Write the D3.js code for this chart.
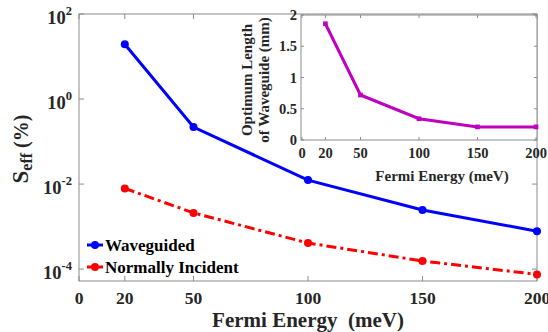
<!DOCTYPE html>
<html><head><meta charset="utf-8">
<script src="https://cdn.jsdelivr.net/npm/d3@7"></script>
<style>body{margin:0;background:#fff;}</style>
</head><body>
<script>
const energies = [20, 50, 100, 150, 200];
const waveguided = [19.4, 0.22, 0.0124, 0.00245, 0.00078];
const normallyIncident = [0.0079, 0.0021, 0.00041, 0.000155, 0.000075];
const optimumLength = [1.86, 0.72, 0.34, 0.21, 0.21];
const mainXTicks = [0, 20, 50, 100, 150, 200];
const mainYExponents = [2, 0, -2, -4];
const insetXTicks = [0, 20, 50, 100, 150, 200];
const insetYTicks = [0, 0.5, 1, 1.5, 2];
const seriesNames = ["Waveguided", "Normally Incident"];

const W = 548, H = 332;
const FONT = "Liberation Serif";
const svg = d3.select("body").append("svg").attr("width", W).attr("height", H);
const axisColor = "#8c8c8c";
function txt(sel) {
  return sel.append("text").attr("font-family", FONT).attr("font-weight", "bold");
}

// main
const M = {l: 79, r: 537, t: 14, b: 281};
const x = d3.scaleLinear().domain([0, 200]).range([M.l, M.r]);
const y = d3.scaleLog().domain([Math.pow(10, -4.28), 100]).range([M.b, M.t]);

svg.append("rect").attr("x", M.l).attr("y", M.t).attr("width", M.r - M.l).attr("height", M.b - M.t)
  .attr("fill", "none").attr("stroke", axisColor).attr("stroke-width", 1);

const tl = 5;
const gm = svg.append("g");
mainXTicks.forEach(v => {
  gm.append("line").attr("x1", x(v)).attr("x2", x(v)).attr("y1", M.b).attr("y2", M.b - tl).attr("stroke", axisColor);
  gm.append("line").attr("x1", x(v)).attr("x2", x(v)).attr("y1", M.t).attr("y2", M.t + tl).attr("stroke", axisColor);
  txt(gm).attr("x", x(v)).attr("y", 304).attr("text-anchor", "middle").attr("font-size", 17.5).attr("fill", "#262626").text(v);
});
mainYExponents.forEach(e => {
  const v = Math.pow(10, e);
  gm.append("line").attr("x1", M.l).attr("x2", M.l + tl).attr("y1", y(v)).attr("y2", y(v)).attr("stroke", axisColor);
  gm.append("line").attr("x1", M.r).attr("x2", M.r - tl).attr("y1", y(v)).attr("y2", y(v)).attr("stroke", axisColor);
  const t = txt(gm).attr("x", 72).attr("y", y(v) + 10).attr("text-anchor", "end").attr("fill", "#262626");
  t.append("tspan").attr("font-size", 18.5).text("10");
  t.append("tspan").attr("font-size", 12.5).attr("dy", -9).text(e);
});

// axis labels
txt(svg).attr("x", 308).attr("y", 327).attr("text-anchor", "middle").attr("font-size", 21)
  .attr("fill", "#262626").style("white-space", "pre").text("Fermi Energy  (meV)");
const yl = txt(svg).attr("transform", "translate(28,149) rotate(-90)").attr("text-anchor", "middle").attr("fill", "#262626");
yl.append("tspan").attr("font-size", 23).text("S");
yl.append("tspan").attr("font-size", 16).attr("dy", 4).text("eff");
yl.append("tspan").attr("font-size", 20).attr("dy", -4).style("white-space", "pre").text(" (%)");

// series
const line = d3.line().x((d, i) => x(energies[i])).y(d => y(d));
const series = [
  {vals: waveguided, color: "#0000ff", dash: null},
  {vals: normallyIncident, color: "#ff0000", dash: "10,4,3,4"}
];
series.forEach(s => {
  svg.append("path").datum(s.vals).attr("d", line).attr("fill", "none").attr("stroke", s.color)
    .attr("stroke-width", 3).attr("stroke-dasharray", s.dash);
  svg.selectAll(null).data(s.vals).enter().append("circle")
    .attr("cx", (d, i) => x(energies[i])).attr("cy", d => y(d)).attr("r", 4).attr("fill", s.color);
});

// legend
const legY = [245, 267];
series.forEach((s, i) => {
  svg.append("line").attr("x1", 87).attr("x2", 103).attr("y1", legY[i]).attr("y2", legY[i])
    .attr("stroke", s.color).attr("stroke-width", 3).attr("stroke-dasharray", s.dash ? "6,2,2,2" : null);
  svg.append("circle").attr("cx", 95).attr("cy", legY[i]).attr("r", 4).attr("fill", s.color);
  txt(svg).attr("x", 105).attr("y", legY[i] + 6).attr("font-size", 17).attr("fill", "#000").text(seriesNames[i]);
});

// inset
const I = {l: 301, r: 537, t: 15, b: 140};
const xi = d3.scaleLinear().domain([0, 200]).range([I.l + 1, I.r - 1]);
const yi = d3.scaleLinear().domain([0, 2]).range([I.b, I.t]);
svg.append("rect").attr("x", I.l).attr("y", I.t).attr("width", I.r - I.l).attr("height", I.b - I.t)
  .attr("fill", "#fff").attr("stroke", axisColor);
const gi = svg.append("g");
insetXTicks.forEach(v => {
  gi.append("line").attr("x1", xi(v)).attr("x2", xi(v)).attr("y1", I.b).attr("y2", I.b - 3).attr("stroke", axisColor);
  gi.append("line").attr("x1", xi(v)).attr("x2", xi(v)).attr("y1", I.t).attr("y2", I.t + 3).attr("stroke", axisColor);
  txt(gi).attr("x", xi(v)).attr("y", 158).attr("text-anchor", "middle").attr("font-size", 14.5).attr("fill", "#262626").text(v);
});
insetYTicks.forEach(v => {
  gi.append("line").attr("x1", I.l).attr("x2", I.l + 3).attr("y1", yi(v)).attr("y2", yi(v)).attr("stroke", axisColor);
  gi.append("line").attr("x1", I.r).attr("x2", I.r - 3).attr("y1", yi(v)).attr("y2", yi(v)).attr("stroke", axisColor);
  txt(gi).attr("x", 297).attr("y", yi(v) + 5).attr("text-anchor", "end").attr("font-size", 14.5).attr("fill", "#262626").text(v);
});
txt(svg).attr("x", 442).attr("y", 181).attr("text-anchor", "middle").attr("font-size", 15).attr("fill", "#262626").text("Fermi Energy (meV)");
txt(svg).attr("transform", "translate(252,80) rotate(-90)").attr("text-anchor", "middle").attr("font-size", 15).attr("fill", "#262626").text("Optimum Length");
txt(svg).attr("transform", "translate(269,80) rotate(-90)").attr("text-anchor", "middle").attr("font-size", 15).attr("fill", "#262626").text("of Waveguide (mm)");

const lineI = d3.line().x((d, i) => xi(energies[i])).y(d => yi(d));
svg.append("path").datum(optimumLength).attr("d", lineI).attr("fill", "none").attr("stroke", "#bf00bf").attr("stroke-width", 3);
svg.selectAll(null).data(optimumLength).enter().append("path")
  .attr("transform", (d, i) => `translate(${xi(energies[i])},${yi(d)})`)
  .attr("d", d3.symbol().type(d3.symbolSquare).size(22)).attr("fill", "#bf00bf");
</script>
</body></html>
